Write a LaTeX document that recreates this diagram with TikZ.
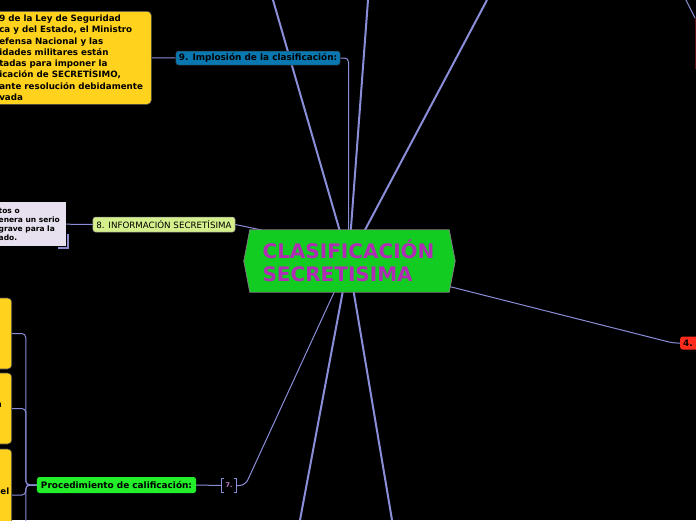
\documentclass[tikz,border=0pt]{standalone}
\usepackage{fontspec}
\setmainfont{DejaVu Sans}
\usetikzlibrary{backgrounds}
\definecolor{mapline}{HTML}{8A8ED8}
\definecolor{hubgreen}{HTML}{12CC22}
\definecolor{hubtext}{HTML}{B02CB4}
\definecolor{notey}{HTML}{FFD21E}
\definecolor{topicblue}{HTML}{0A78B0}
\definecolor{topiclime}{HTML}{D4EF8C}
\definecolor{topicgreen}{HTML}{22EE2A}
\definecolor{topicred}{HTML}{FF2B1C}
\definecolor{notelav}{HTML}{E7E1EF}
\definecolor{lavshade}{HTML}{8C8CD0}
\definecolor{darkred}{HTML}{5A1418}
\definecolor{pinknum}{HTML}{C080C8}

\begin{document}
\begin{tikzpicture}[x=1pt, y=-1pt,
  thickline/.style={mapline, line width=2pt},
  thinline/.style={mapline, line width=1pt},
  hubnode/.style={minimum width=199pt, minimum height=62pt, align=left, text=hubtext, font=\fontsize{20}{23.5}\selectfont\bfseries},
  notebox/.style={fill=notey, draw=black!70, line width=.6pt, rounded corners=4pt},
  notetext/.style={font=\fontsize{8.7}{11.3}\selectfont\bfseries, inner sep=0pt},
  topic/.style={rounded corners=2.5pt, inner xsep=3pt, inner ysep=0pt, font=\fontsize{8.9}{10}\selectfont\bfseries, text=black}]
\useasboundingbox (0,0) rectangle (696,520);
\clip (0,0) rectangle (696,520);

% center
\node[hubnode] (hub) at (348.5,261) {CLASIFICACIÓN\\SECRETISIMA};

% 9.
\node[notebox, anchor=north west, text width=148pt, inner xsep=4pt, minimum height=93pt, align=flush left, font=\fontsize{8.7}{11.3}\selectfont\bfseries] (art) at (-5,11) {9 de la Ley de Seguridad\\ca y del Estado, el Ministro\\efensa Nacional y las\\idades militares están\\tadas para imponer la\\icación de SECRETÍSIMO,\\ante resolución debidamente\\vada};
\node[topic, fill=topicblue, draw=black!80, line width=.5pt, minimum height=14pt] (n9) at (258,58) {9. Implosión de la clasificación:};

% 8.
\node[anchor=north west, fill=notelav, text width=64pt, inner xsep=3.5pt, minimum height=44pt, align=flush left, font=\fontsize{7.5}{9}\selectfont\bfseries] (inf) at (-5,202) {tos o\\enera un serio\\grave para la\\ado.};
\node[topic, fill=topiclime, draw=black!45, line width=.5pt, minimum height=15pt, font=\fontsize{8.7}{10}\selectfont, inner xsep=3.5pt] (n8) at (164,224.5) {8. INFORMACIÓN SECRETÍSIMA};

% 7.
\node[notebox, anchor=east, minimum width=30pt, minimum height=71pt] (y1) at (12,333.5) {};
\node[notebox, anchor=east, minimum width=30pt, minimum height=71pt] (y2) at (12,408.5) {};
\node[notebox, anchor=east, minimum width=30pt, minimum height=92pt] (y3) at (12,495) {};
\node[notebox, anchor=east, minimum width=30pt, minimum height=71pt] (y4) at (12,585) {};
\node[notetext, anchor=base east] (y2t) at (2,407) {n};
\node[notetext, anchor=base east] (y3t) at (9.5,494) {el};
\node[topic, fill=topicgreen, minimum height=16pt, inner xsep=4pt] (proc) at (116.5,485) {Procedimiento de calificación:};
\node[minimum width=14pt, minimum height=14pt, inner sep=0pt, text=pinknum, font=\fontsize{6.5}{7}\selectfont\bfseries] (n7) at (229,485.5) {7.};

% 4.
\node[topic, fill=topicred, anchor=west, minimum height=13pt] (n4) at (680,343) {4. A};
\node[draw=darkred, line width=1pt, anchor=north west, minimum width=30pt, minimum height=50pt] (n3) at (695,18) {};

\coordinate (b1) at (273,0);
\coordinate (b2) at (368,0);
\coordinate (b3) at (487,0);
\coordinate (b4) at (683,-6);
\coordinate (b5) at (300,520);
\coordinate (b6) at (392,520);

\begin{scope}[on background layer]
\clip (0,0) rectangle (696,520);
\fill[black] (0,0) rectangle (696,520);
% branches
\foreach \b in {b1,b2,b3,b5,b6}
  \draw[thickline] (hub.center) -- (\b);
\draw[thinline] (b4) -- (n3.north west);
\draw[thinline, rounded corners=4pt] (hub.center) -- ([xshift=-7pt]n4.west) -- (n4.west);
\draw[thinline, rounded corners=4pt] (n9.east) -| (hub.center);
\draw[thinline] (art.east) -- (n9.west);
\draw[thinline] (n8.east) -- ++(24,5) -- (hub.center);
\draw[thinline] (inf.east) -- (n8.west);
\draw[lavshade, line width=1.5pt] ([shift={(1.5,-12)}]inf.south east) -- ([shift={(1.5,1.5)}]inf.south east) -- ([shift={(-8,1.5)}]inf.south east);
\draw[thinline, rounded corners=6pt] (n7.east) -- ++(9,0) -- (hub.center);
\draw[thinline] (proc.east) -- (n7.west);
\foreach \y in {y1,y2,y3,y4}
  \draw[thinline, rounded corners=4pt] (proc.west) -- ++(-11,0) |- (\y.east);
\draw[thinline] ([xshift=2pt]n7.north west) -| (n7.south west) -- ++(2,0);
\draw[thinline] ([xshift=-2pt]n7.north east) -| (n7.south east) -- ++(-2,0);
% hub shape
\filldraw[fill=hubgreen, draw=gray, line width=.8pt] ([xshift=1pt]hub.north west) -- ([xshift=1pt]hub.north east) -- ([xshift=7pt]hub.east) -- ([xshift=1pt]hub.south east) -- ([xshift=1pt]hub.south west) -- ([xshift=-5pt]hub.west) -- cycle;
\end{scope}
\end{tikzpicture}
\end{document}
